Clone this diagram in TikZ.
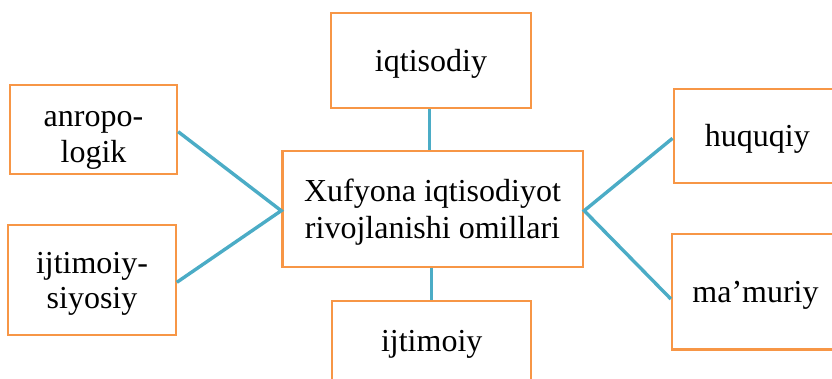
\documentclass[tikz,border=0pt]{standalone}
\usepackage{fontspec}
\setmainfont{Liberation Serif}
\definecolor{boxorange}{HTML}{F79646}
\definecolor{linkblue}{HTML}{4BACC6}
\begin{document}
\begin{tikzpicture}[x=1pt,y=-1pt,
  fbox/.style={draw=boxorange,line width=2.3pt,fill=white,inner sep=0pt},
  lbl/.style={anchor=base,inner sep=0pt,font=\fontsize{32}{36}\selectfont},
  link/.style={draw=linkblue,line width=3.4pt}]
\useasboundingbox (0,0) rectangle (832,379);
% boxes
\node[fbox,minimum width=200pt,minimum height=95pt] (iq) at (431,60.8) {};
\node[fbox,minimum width=167pt,minimum height=89pt] (an) at (93.5,129.5) {};
\node[fbox,minimum width=167.4pt,minimum height=109.4pt] (is) at (92,280) {};
\node[fbox,minimum width=300.7pt,minimum height=115.7pt] (c) at (432.7,208.9) {};
\node[fbox,minimum width=199pt,minimum height=110pt] (ij) at (431.2,355.7) {};
\node[fbox,minimum width=167pt,minimum height=94pt] (hu) at (757.2,136.3) {};
\node[fbox,minimum width=167pt,minimum height=115.3pt] (ma) at (755.5,291.7) {};
% texts
\node[lbl] (tiq) at (431,71.7) {iqtisodiy};
\node[lbl] (tan1) at (93.5,126.7) {anropo-};
\node[lbl] (tan2) at (93.5,162.3) {logik};
\node[lbl] (tis1) at (92,273.3) {ijtimoiy-};
\node[lbl] (tis2) at (92,308.3) {siyosiy};
\node[lbl] (tc1) at (432.5,201.7) {Xufyona iqtisodiyot};
\node[lbl] (tc2) at (432.5,238.3) {rivojlanishi omillari};
\node[lbl] (tij) at (431.7,351.7) {ijtimoiy};
\node[lbl] (thu) at (757.3,146.7) {huquqiy};
\node[lbl] (tma) at (755.5,302.7) {ma’muriy};
% connectors
\coordinate (cl) at (c.west |- 0,210.7);
\coordinate (cr) at (c.east |- 0,210.7);
\draw[link] (an.east |- 0,131.7) -- (cl) -- (is.east |- 0,282.3);
\draw[link] (hu.west |- 0,138.3) -- (cr) -- (ma.west |- 0,299);
\draw[link] (iq.south -| 429.7,0) -- (c.north -| 429.7,0);
\draw[link] (c.south -| 431.5,0) -- (ij.north -| 431.5,0);
\end{tikzpicture}
\end{document}
